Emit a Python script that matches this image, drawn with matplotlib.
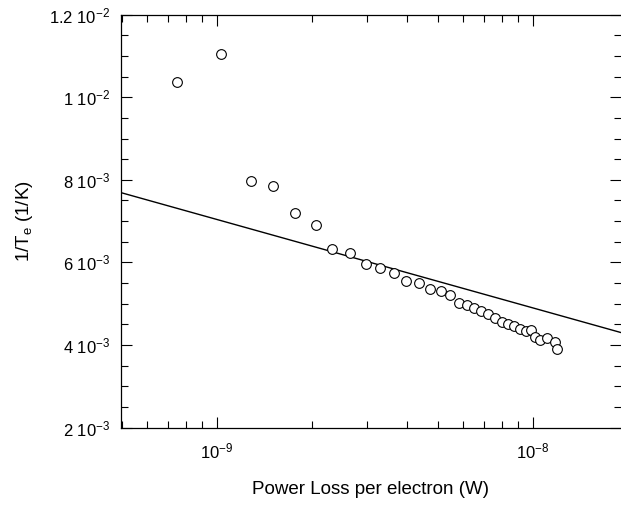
import matplotlib
matplotlib.use("Agg")
import matplotlib.pyplot as plt
from matplotlib.ticker import FixedLocator, FixedFormatter, LogLocator, NullFormatter

plt.rcParams['font.family'] = ['Liberation Sans', 'DejaVu Sans']
plt.rcParams['mathtext.fontset'] = 'custom'
plt.rcParams['mathtext.rm'] = 'Liberation Sans'
plt.rcParams['mathtext.it'] = 'Liberation Sans:italic'

# measured points: power loss per electron (W) vs 1/Te (1/K)
power = [7.49e-10, 1.032e-9, 1.287e-9, 1.508e-9, 1.769e-9, 2.058e-9, 2.322e-9,
         2.647e-9, 2.969e-9, 3.287e-9, 3.648e-9, 3.964e-9, 4.367e-9, 4.742e-9,
         5.115e-9, 5.486e-9, 5.846e-9, 6.196e-9, 6.520e-9, 6.886e-9, 7.245e-9,
         7.597e-9, 7.977e-9, 8.364e-9, 8.747e-9, 9.117e-9, 9.502e-9, 9.892e-9,
         1.017e-8, 1.057e-8, 1.114e-8, 1.177e-8, 1.198e-8]
inv_te = [0.01038, 0.01105, 0.007979, 0.007858, 0.007198, 0.006908, 0.006328,
          0.006238, 0.005956, 0.005852, 0.005731, 0.005545, 0.005496, 0.005344,
          0.005303, 0.005206, 0.005005, 0.004964, 0.004901, 0.004829, 0.004739,
          0.004650, 0.004565, 0.004505, 0.004469, 0.004384, 0.004340, 0.004360,
          0.004183, 0.004128, 0.004159, 0.004075, 0.003900]

# fitted line endpoints
fit_x = [4.98e-10, 1.904e-8]
fit_y = [0.00769, 0.00430]

ytick_vals = [0.002, 0.004, 0.006, 0.008, 0.010, 0.012]
ytick_labels = [r'2 10$^{-3}$', r'4 10$^{-3}$', r'6 10$^{-3}$', r'8 10$^{-3}$',
                r'1 10$^{-2}$', r'1.2 10$^{-2}$']

fig = plt.figure(figsize=(6.21, 5.09), dpi=100)
ax = fig.add_axes([0.1948, 0.1601, 0.8052, 0.811])

ax.plot(fit_x, fit_y, color='black', lw=1.0)
ax.plot(power, inv_te, ls='none', marker='o', ms=7, mfc='white',
        mec='black', mew=0.8)

ax.set_xscale('log')
ax.set_xlim(4.98e-10, 1.904e-8)
ax.set_ylim(0.002, 0.012)

ax.xaxis.set_major_locator(FixedLocator([1e-9, 1e-8]))
ax.xaxis.set_major_formatter(FixedFormatter([r'10$^{-9}$', r'10$^{-8}$']))
ax.xaxis.set_minor_locator(LogLocator(base=10, subs=range(2, 10), numticks=20))
ax.xaxis.set_minor_formatter(NullFormatter())

ax.yaxis.set_major_locator(FixedLocator(ytick_vals))
ax.yaxis.set_major_formatter(FixedFormatter(ytick_labels))
ax.yaxis.set_minor_locator(FixedLocator([0.002 + 0.0005 * i for i in range(21)]))

ax.tick_params(which='both', direction='in', top=True, right=True, labelsize=12)
ax.tick_params(which='major', length=8, width=0.8)
ax.tick_params(which='minor', length=5, width=0.8)
ax.tick_params(axis='x', pad=10)
ax.tick_params(axis='y', pad=8)
ax.spines['right'].set_visible(False)
for s in ['left', 'bottom', 'top']:
    ax.spines[s].set_linewidth(0.9)

ax.set_xlabel('Power Loss per electron (W)', fontsize=13.5, labelpad=14)
ax.set_ylabel(r'1/T$_{\mathrm{e}}$ (1/K)', fontsize=13.5, labelpad=10)

fig.savefig('out.png', dpi=100)
